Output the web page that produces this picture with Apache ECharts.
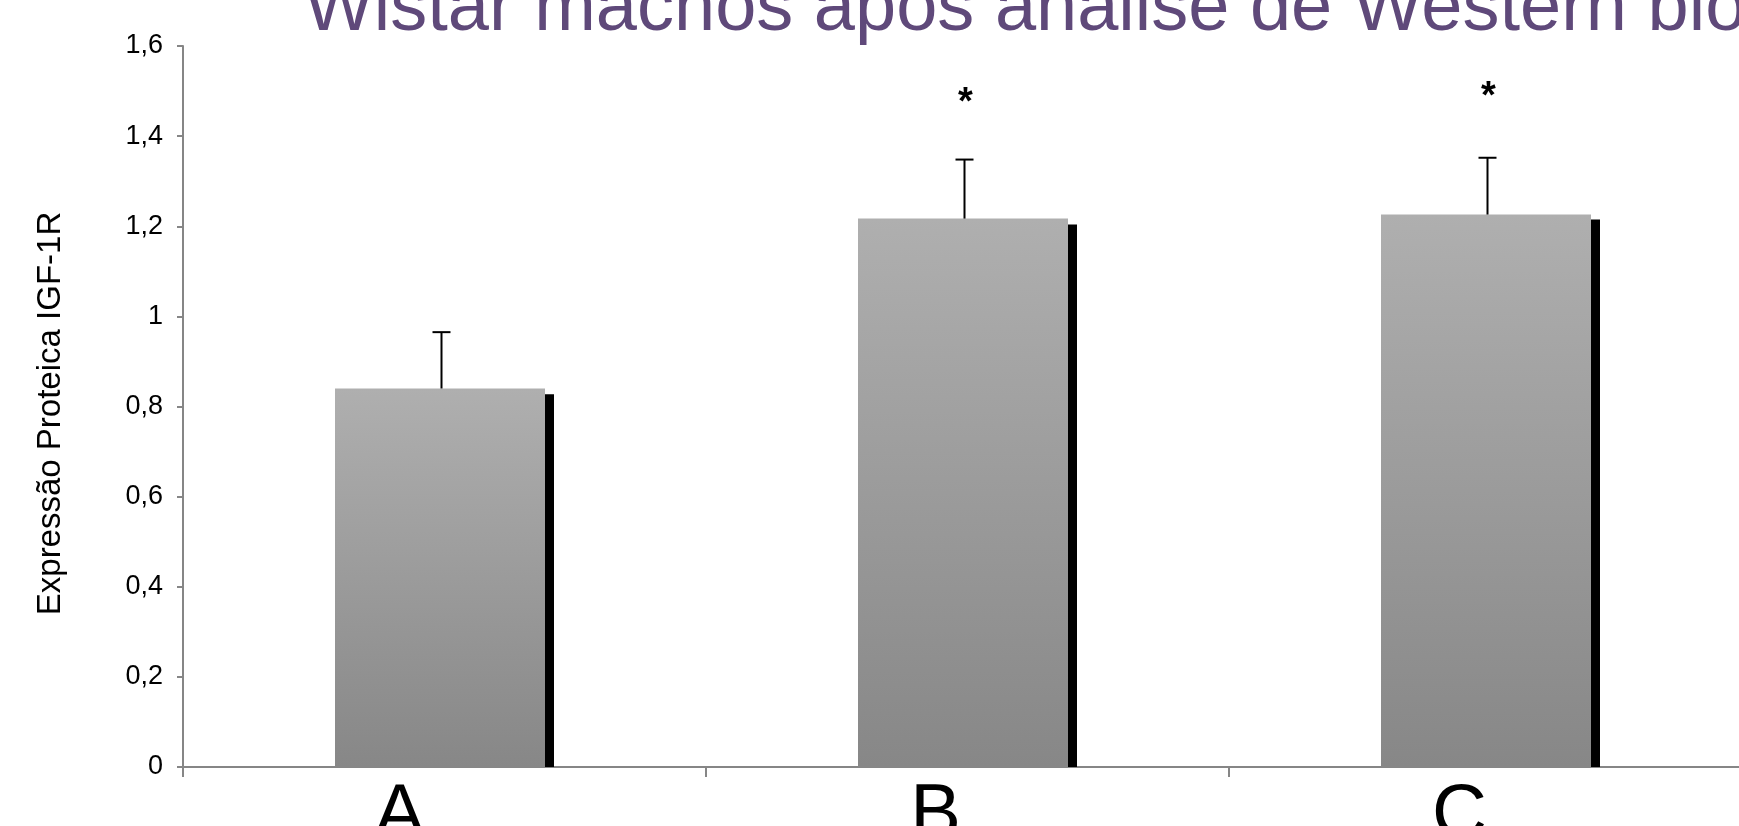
<!DOCTYPE html>
<html>
<head>
<meta charset="utf-8">
<script src="https://cdn.jsdelivr.net/npm/echarts@6/dist/echarts.min.js"></script>
<style>
html,body{margin:0;padding:0;background:#fff;}
#chart{width:1739px;height:826px;}
</style>
</head>
<body>
<div id="chart"></div>
<script>
// ---- data ----
const categories = ['A', 'B', 'C'];
const meanValues = [0.84, 1.217, 1.226];
const shadowValues = [0.827, 1.204, 1.215];
const errorValues = [0.125, 0.131, 0.126];
const significance = ['', '*', '*'];
const significanceLevel = [null, 1.493, 1.506];
const yTicks = [0, 0.2, 0.4, 0.6, 0.8, 1, 1.2, 1.4, 1.6];
const titleText = 'Wistar machos após análise de Western blot';
const yAxisTitle = 'Expressão Proteica IGF-1R';

const FONT = "'Liberation Sans', Arial, sans-serif";
const labelShift = [90, 64, 62]; // right padding to shift category labels left
const chart = echarts.init(document.getElementById('chart'), null, {renderer: 'canvas'});

const errData = categories.map((c, i) => [i, meanValues[i], errorValues[i]]);
const rich = {};
labelShift.forEach((p, i) => {
  rich['l' + i] = {fontSize: 76, fontFamily: FONT, color: '#000', padding: [0, p, 0, 0]};
});

const option = {
  backgroundColor: '#ffffff',
  animation: false,
  graphic: [{
    type: 'text',
    x: 304,
    y: 0,
    style: {
      text: titleText,
      x: 0,
      y: 47,
      fill: '#5F497A',
      font: "74px " + FONT,
      verticalAlign: 'bottom',
      align: 'left'
    },
    z: 10
  }],
  grid: {left: 183, right: -13, top: 46, bottom: 59, containLabel: false, outerBoundsMode: 'none'},
  xAxis: {
    type: 'category',
    data: categories,
    axisLine: {lineStyle: {color: '#868686', width: 2}},
    axisTick: {show: true, length: 10, lineStyle: {color: '#868686', width: 2}},
    axisLabel: {
      color: '#000', fontSize: 76, fontFamily: FONT, margin: 11,
      formatter: (v, i) => '{l' + i + '|' + v + '}',
      rich: rich
    }
  },
  yAxis: {
    type: 'value',
    min: yTicks[0],
    max: yTicks[yTicks.length - 1],
    interval: 0.2,
    name: yAxisTitle,
    nameLocation: 'middle',
    nameRotate: 90,
    nameGap: 116,
    nameTextStyle: {color: '#000', fontSize: 33, fontFamily: FONT, padding: [0, 14, 0, 0]},
    axisLine: {show: true, lineStyle: {color: '#868686', width: 2}},
    axisTick: {show: true, length: 6, lineStyle: {color: '#868686', width: 2}},
    splitLine: {show: false},
    axisLabel: {
      color: '#000', fontSize: 27, fontFamily: FONT, margin: 20,
      formatter: v => String(Math.round(v * 10) / 10).replace('.', ',')
    }
  },
  series: [
    {
      type: 'bar',
      data: meanValues,
      barWidth: 210,
      barGap: '0%',
      itemStyle: {
        color: new echarts.graphic.LinearGradient(0, 0, 0, 1, [
          {offset: 0, color: '#afafaf'},
          {offset: 1, color: '#878787'}
        ])
      },
      z: 2
    },
    {
      type: 'bar',
      data: shadowValues,
      barWidth: 9,
      itemStyle: {color: '#000000'},
      z: 2
    },
    {
      type: 'custom',
      data: errData,
      z: 5,
      renderItem: function (params, api) {
        const idx = api.value(0);
        const val = api.value(1);
        const sd = api.value(2);
        const base = api.coord([idx, val]);
        const top = api.coord([idx, val + sd]);
        const cx = base[0] - 3;
        const children = [
          {type: 'line', shape: {x1: cx, y1: base[1], x2: cx, y2: top[1]}, style: {stroke: '#000', lineWidth: 2}},
          {type: 'line', shape: {x1: cx - 9, y1: top[1], x2: cx + 9, y2: top[1]}, style: {stroke: '#000', lineWidth: 2}}
        ];
        const s = significance[idx];
        if (s) {
          const sp = api.coord([idx, significanceLevel[idx]]);
          children.push({
            type: 'text',
            style: {text: s, x: cx + 1, y: sp[1] + 9, fill: '#000', font: "bold 38px " + FONT, align: 'center', verticalAlign: 'middle'}
          });
        }
        return {type: 'group', children: children};
      }
    }
  ]
};
chart.setOption(option);
</script>
</body>
</html>
